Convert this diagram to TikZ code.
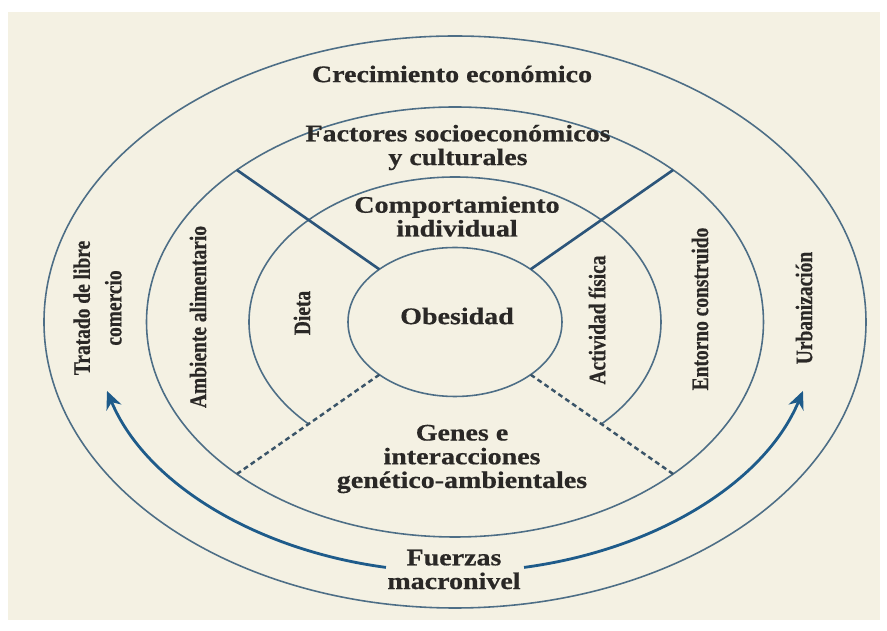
\documentclass[tikz,border=0pt]{standalone}
\usepackage{fontspec}
\usepackage{tikz}
\usetikzlibrary{arrows.meta}

\setmainfont{Liberation Serif}
\newfontfamily\flatfont[FakeStretch=1.18, FakeBold=0.6]{Liberation Serif}
\newfontfamily\tallfont[FakeStretch=0.82, FakeBold=0.6]{Liberation Serif}

\definecolor{cream}{HTML}{F4F1E3}
\definecolor{ringc}{HTML}{4D6E86}
\definecolor{sectc}{HTML}{2C557A}
\definecolor{dashc}{HTML}{3A5468}
\definecolor{arrowc}{HTML}{1E5B8A}
\definecolor{textc}{HTML}{2A2826}

\begin{document}
\begin{tikzpicture}[ring/.style={draw=ringc, line width=0.9pt},
    sector/.style={draw=sectc, line width=1.5pt},
    gene/.style={draw=dashc, line width=1.4pt, dash pattern=on 2.8pt off 2pt},
    force/.style={draw=arrowc, line width=1.6pt, -{Stealth[length=3.6mm,width=3.2mm]}},
    hlab/.style={text=textc, font=\flatfont\bfseries\fontsize{13.5}{13.5}\selectfont, align=center},
    vlab/.style={text=textc, font=\tallfont\bfseries\fontsize{13.5}{18}\selectfont, align=center, rotate=90}]
    \useasboundingbox (-9.10,-6.18) rectangle (8.64,6.44);
    \fill[white] (-9.10,-6.18) rectangle (8.64,6.44);
    \fill[cream] (-8.94,-5.96) rectangle (8.50,6.20);

    % rings
    \draw[ring] (0,0) ellipse [x radius=8.22, y radius=5.72];
    \draw[ring] (0,0) ellipse [x radius=6.17, y radius=4.30];
    \draw[ring] (-45:4.12 and 2.90) arc [start angle=-45, end angle=225, x radius=4.12, y radius=2.90];
    \draw[ring] (0,0) ellipse [x radius=2.14, y radius=1.49];

    % spokes
    \coordinate (in45) at (45:2.14 and 1.49);
    \coordinate (in135) at (135:2.14 and 1.49);
    \coordinate (in225) at (225:2.14 and 1.49);
    \coordinate (in315) at (315:2.14 and 1.49);
    \coordinate (out45) at (45:6.17 and 4.30);
    \coordinate (out135) at (135:6.17 and 4.30);
    \coordinate (out225) at (225:6.17 and 4.30);
    \coordinate (out315) at (315:6.17 and 4.30);
    \draw[sector] (in135) -- (out135);
    \draw[sector] (in45) -- (out45);
    \draw[gene] (in225) -- (out225);
    \draw[gene] (in315) -- (out315);

    % macro level arrows
    \coordinate (fleft) at (259:7.24 and 5.00);
    \coordinate (fright) at (281:7.24 and 5.00);
    \draw[force] (fleft) arc [start angle=259, end angle=196, x radius=7.24, y radius=5.00];
    \draw[force] (fright) arc [start angle=281, end angle=344, x radius=7.24, y radius=5.00];

    % labels
    \node[hlab] (crec) at (-0.06,4.96) {Crecimiento económico};
    \node[hlab] (socio) at (0.06,3.49) {Factores socioeconómicos\\y culturales};
    \node[hlab] (indiv) at (0.04,2.11) {Comportamiento\\individual};
    \node[hlab] (obes) at (0.04,0.12) {Obesidad};
    \node[hlab] (genes) at (0.14,-2.74) {Genes e\\interacciones\\genético-ambientales};
    \node[hlab] (macro) at (-0.02,-4.95) {Fuerzas\\macronivel};
    \node[vlab] (dieta) at (-3.06,0.18) {Dieta};
    \node[vlab] (alim) at (-5.14,0.10) {Ambiente alimentario};
    \node[vlab] (tratado) at (-7.15,0.28) {Tratado de libre\\comercio};
    \node[vlab] (activ) at (2.84,0.04) {Actividad física};
    \node[vlab] (entorno) at (4.90,0.26) {Entorno construido};
    \node[vlab] (urban) at (6.98,0.28) {Urbanización};
\end{tikzpicture}
\end{document}
